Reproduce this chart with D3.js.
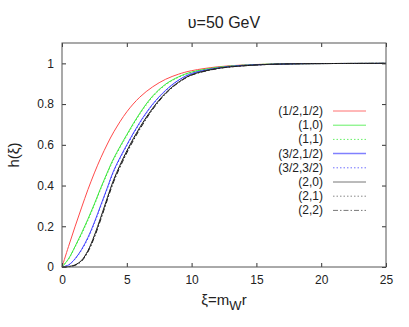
<!DOCTYPE html>
<html>
<head>
<meta charset="utf-8">
<script src="https://cdn.jsdelivr.net/npm/d3@7"></script>
<style>
  body { margin: 0; background: #fff; }
  text { font-family: "Liberation Sans", Arial, sans-serif; fill: #222; }
</style>
</head>
<body>
<div id="chart"></div>
<script>
// values
var xi = [0, 0.5, 1, 1.5, 2, 2.5, 3, 3.5, 4, 5, 6, 7, 8, 9, 10, 12, 14, 16, 18, 20, 25];
var h_half_half = [0, 0.10, 0.197, 0.29, 0.38, 0.462, 0.537, 0.604, 0.664, 0.762, 0.834, 0.885, 0.922, 0.947, 0.964, 0.983, 0.992, 0.996, 0.998, 0.999, 1];
var h_1_0 = [0, 0.04, 0.10, 0.165, 0.235, 0.31, 0.39, 0.465, 0.535, 0.65, 0.755, 0.84, 0.898, 0.934, 0.957, 0.98, 0.991, 0.996, 0.998, 0.999, 1];
var h_1_1 = [0, 0.038, 0.097, 0.16, 0.23, 0.305, 0.385, 0.46, 0.53, 0.645, 0.75, 0.836, 0.895, 0.932, 0.956, 0.98, 0.991, 0.996, 0.998, 0.999, 1];
var h_32_12 = [0, 0.01, 0.04, 0.085, 0.145, 0.22, 0.305, 0.39, 0.475, 0.6, 0.71, 0.80, 0.868, 0.918, 0.95, 0.977, 0.99, 0.995, 0.998, 0.999, 1];
var h_32_32 = [0, 0.009, 0.038, 0.082, 0.14, 0.215, 0.30, 0.385, 0.47, 0.595, 0.706, 0.797, 0.866, 0.916, 0.949, 0.977, 0.99, 0.995, 0.998, 0.999, 1];
var h_2_0 = [0, 0.002, 0.01, 0.032, 0.08, 0.155, 0.245, 0.34, 0.43, 0.57, 0.685, 0.78, 0.855, 0.908, 0.944, 0.975, 0.988, 0.995, 0.998, 0.999, 1];
var h_2_1 = [0, 0.002, 0.009, 0.03, 0.077, 0.15, 0.24, 0.335, 0.425, 0.565, 0.68, 0.777, 0.853, 0.907, 0.943, 0.975, 0.988, 0.995, 0.998, 0.999, 1];
var h_2_2 = [0, 0.001, 0.008, 0.028, 0.074, 0.146, 0.235, 0.33, 0.42, 0.56, 0.676, 0.774, 0.851, 0.906, 0.942, 0.974, 0.988, 0.995, 0.998, 0.999, 1];

var labels = ["(1/2,1/2)", "(1,0)", "(1,1)", "(3/2,1/2)", "(3/2,3/2)", "(2,0)", "(2,1)", "(2,2)"];
var seriesValues = [h_half_half, h_1_0, h_1_1, h_32_12, h_32_32, h_2_0, h_2_1, h_2_2];
var xTicks = [0, 5, 10, 15, 20, 25];
var yTicks = [0, 0.2, 0.4, 0.6, 0.8, 1];

var colors = ["#ff4a4a", "#3ee83e", "#3ee83e", "#4646ff", "#4646ff", "#111", "#555", "#222"];
var dashes = [null, null, "1.5,2", null, "1.5,2", null, "1.5,2", "5,2,1.5,2"];
var legendColors = ["#ff7070", "#66f066", "#66f066", "#8080ff", "#7070ff", "#777", "#888", "#777"];

var width = 409, height = 327;
var margin = {left: 62, right: 23, top: 43, bottom: 60};

var svg = d3.select('#chart').append('svg')
  .attr('width', width)
  .attr('height', height);

var x = d3.scaleLinear().domain([0, 25]).range([margin.left, width - margin.right]);
var y = d3.scaleLinear().domain([0, 1.1]).range([height - margin.bottom, margin.top]);

// curves
var line = d3.line()
  .x(function(d) { return x(d[0]); })
  .y(function(d) { return y(d[1]); })
  .curve(d3.curveCatmullRom.alpha(0.5));

var plot = svg.append('g');
seriesValues.forEach(function(vals, i) {
  plot.append('path')
    .datum(xi.map(function(v, k) { return [v, vals[k]]; }))
    .attr('d', line)
    .attr('fill', 'none')
    .attr('stroke', colors[i])
    .attr('stroke-width', 1)
    .attr('stroke-dasharray', dashes[i]);
});

// axes, with mirrored ticks inside the frame
var tickLen = 4;
svg.append('g')
  .attr('transform', 'translate(0,' + (height - margin.bottom) + ')')
  .call(d3.axisBottom(x).tickValues(xTicks).tickSizeInner(-tickLen).tickSizeOuter(0).tickPadding(8));
svg.append('g')
  .attr('transform', 'translate(0,' + margin.top + ')')
  .call(d3.axisTop(x).tickValues(xTicks).tickSizeInner(-tickLen).tickSizeOuter(0).tickFormat(''));
svg.append('g')
  .attr('transform', 'translate(' + margin.left + ',0)')
  .call(d3.axisLeft(y).tickValues(yTicks).tickSizeInner(-tickLen).tickSizeOuter(0).tickPadding(8).tickFormat(d3.format('~g')));
svg.append('g')
  .attr('transform', 'translate(' + (width - margin.right) + ',0)')
  .call(d3.axisRight(y).tickValues(yTicks).tickSizeInner(-tickLen).tickSizeOuter(0).tickFormat(''));

svg.selectAll('.domain').remove();
svg.selectAll('.tick line').attr('stroke', '#333');
svg.selectAll('.tick text').style('font-size', '12px').attr('fill', '#222');

svg.append('rect')
  .attr('x', margin.left)
  .attr('y', margin.top)
  .attr('width', width - margin.left - margin.right)
  .attr('height', height - margin.top - margin.bottom)
  .attr('fill', 'none')
  .attr('stroke', '#555')
  .attr('stroke-width', 1);

// title and axis labels
svg.append('text')
  .attr('x', (margin.left + width - margin.right) / 2)
  .attr('y', 28)
  .attr('text-anchor', 'middle')
  .style('font-size', '16px')
  .text('υ=50 GeV');

var xl = svg.append('text')
  .attr('x', (margin.left + width - margin.right) / 2)
  .attr('y', 305)
  .attr('text-anchor', 'middle')
  .style('font-size', '15px');
xl.append('tspan').text('ξ=m');
xl.append('tspan').attr('dy', 5).style('font-size', '13px').text('W');
xl.append('tspan').attr('dy', -5).text('r');

svg.append('text')
  .attr('transform', 'translate(19,' + (height - margin.bottom + margin.top) / 2 + ') rotate(-90)')
  .attr('text-anchor', 'middle')
  .style('font-size', '15px')
  .text('h(ξ)');

// legend
var leg = svg.append('g');
labels.forEach(function(lab, i) {
  var ly = 111 + i * 14.2;
  leg.append('text')
    .attr('x', 323)
    .attr('y', ly + 4)
    .attr('text-anchor', 'end')
    .style('font-size', '12px')
    .text(lab);
  leg.append('line')
    .attr('x1', 333).attr('x2', 366)
    .attr('y1', ly).attr('y2', ly)
    .attr('stroke', legendColors[i])
    .attr('stroke-width', i == 3 ? 1.5 : 1)
    .attr('stroke-dasharray', dashes[i]);
});
</script>
</body>
</html>
